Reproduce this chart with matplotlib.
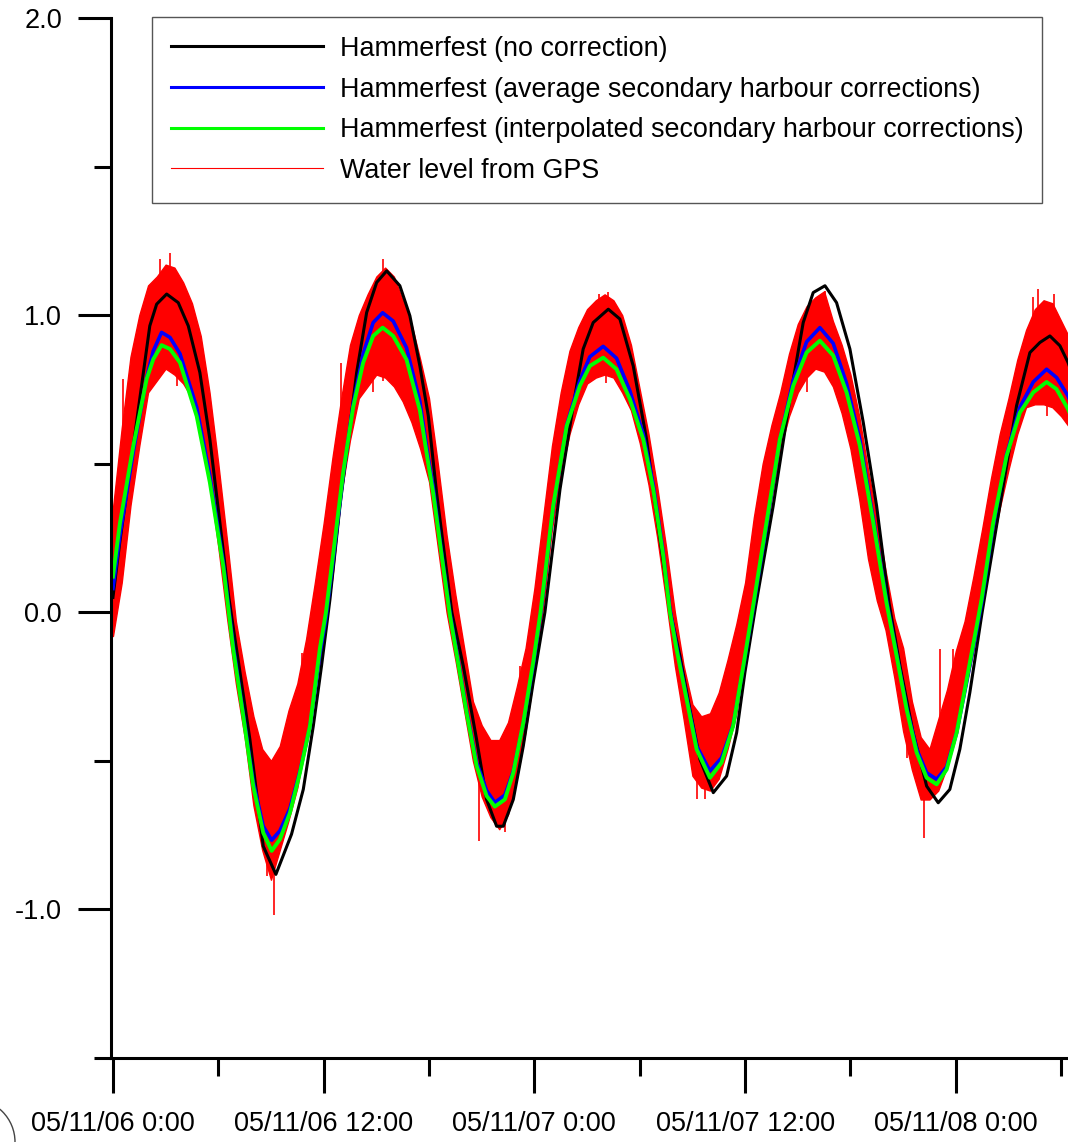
"""Tide predictions for Hammerfest vs. GPS-derived water level, 6-8 Nov 2005."""

import datetime as dt

import matplotlib

matplotlib.use("Agg")
import matplotlib.dates as mdates
import matplotlib.pyplot as plt
import numpy as np
from matplotlib.lines import Line2D
from matplotlib.patches import Arc
from matplotlib.ticker import FuncFormatter, MultipleLocator
from matplotlib.transforms import IdentityTransform

plt.rcParams["font.family"] = ["Liberation Sans", "DejaVu Sans"]
plt.rcParams["axes.unicode_minus"] = False

START = dt.datetime(2005, 11, 6)

# Hammerfest (no correction): hours after START, water level (m)
black_hours = [0.0, 0.4, 1.16, 2.1, 2.49, 3.06, 3.72, 4.29, 4.95, 5.52, 6.09, 6.6,
               7.23, 7.8, 8.56, 9.28, 10.17, 10.84, 11.41, 11.88, 12.36, 12.93,
               13.88, 14.45, 15.02, 15.59, 16.34, 16.91, 17.48, 17.96, 18.43, 19.3,
               19.95, 20.71, 21.28, 21.85, 22.23, 22.8, 23.37, 23.93, 24.6, 25.46,
               26.21, 26.78, 27.35, 28.21, 28.87, 29.63, 30.39, 31.15, 31.75, 32.29,
               32.86, 33.43, 34.19, 34.95, 35.52, 35.99, 36.6, 37.6, 38.55, 39.31,
               39.88, 40.55, 41.21, 41.97, 42.73, 43.49, 44.2, 44.82, 45.57, 46.34,
               47.0, 47.66, 48.23, 48.8, 49.5, 50.51, 51.46, 52.22, 52.79, 53.36,
               53.93, 54.39, 55.0]
black_level = [0.05, 0.24, 0.56, 0.964, 1.037, 1.071, 1.042, 0.964, 0.807, 0.582, 0.302, 0.05,
               -0.2, -0.428, -0.787, -0.882, -0.747, -0.596, -0.383, -0.18, 0.044, 0.358,
               0.807, 1.009, 1.11, 1.149, 1.099, 0.998, 0.829, 0.661, 0.403, 0.0,
               -0.18, -0.428, -0.63, -0.72, -0.72, -0.63, -0.45, -0.237, 0.0, 0.414,
               0.695, 0.886, 0.975, 1.02, 0.987, 0.829, 0.582, 0.246, 0.0, -0.147,
               -0.327, -0.495, -0.607, -0.551, -0.405, -0.203, 0.02, 0.358, 0.717, 0.975,
               1.076, 1.099, 1.042, 0.886, 0.639, 0.358, 0.03, -0.18, -0.405, -0.585,
               -0.641, -0.596, -0.461, -0.27, 0.0, 0.358, 0.695, 0.874, 0.908, 0.93,
               0.897, 0.841, 0.74]

# average / interpolated secondary harbour corrections share one time base
corr_hours = [0.0, 0.4, 1.16, 1.92, 2.3, 2.77, 3.25, 3.82, 4.77, 5.52, 6.28, 6.85,
              7.42, 7.99, 8.56, 9.04, 9.51, 10.08, 10.65, 11.22, 11.79, 12.13,
              12.55, 13.11, 13.68, 14.25, 14.82, 15.36, 15.96, 16.72, 17.48, 17.96,
              18.24, 18.7, 19.19, 19.57, 20.14, 20.71, 21.28, 21.75, 22.32, 22.8,
              23.37, 23.93, 24.35, 25.07, 25.84, 26.59, 27.16, 27.92, 28.68, 29.44,
              30.2, 30.77, 31.34, 31.72, 32.1, 32.67, 33.24, 34.0, 34.66, 35.32,
              35.9, 36.4, 37.22, 37.98, 38.74, 39.5, 40.26, 41.02, 41.78, 42.54,
              43.3, 44.06, 44.63, 45.2, 45.77, 46.34, 46.91, 47.48, 48.05, 48.62,
              49.19, 49.47, 50.13, 50.89, 51.65, 52.41, 53.17, 53.74, 54.39, 55.0]
blue_level = [0.08, 0.26, 0.54, 0.79, 0.88, 0.942, 0.925, 0.87, 0.69, 0.46, 0.17, -0.11,
              -0.34, -0.57, -0.72, -0.767, -0.735, -0.66, -0.535, -0.385, -0.14, -0.02,
              0.18, 0.46, 0.70, 0.87, 0.975, 1.008, 0.98, 0.89, 0.71, 0.52,
              0.42, 0.21, 0.0, -0.13, -0.33, -0.505, -0.60, -0.64, -0.615, -0.535,
              -0.375, -0.18, -0.01, 0.35, 0.63, 0.78, 0.86, 0.895, 0.855, 0.745,
              0.60, 0.43, 0.20, 0.01, -0.115, -0.285, -0.45, -0.534, -0.49, -0.38,
              -0.185, -0.01, 0.29, 0.58, 0.78, 0.91, 0.958, 0.905, 0.77, 0.58,
              0.315, 0.04, -0.14, -0.32, -0.46, -0.54, -0.562, -0.52, -0.405, -0.235,
              -0.06, 0.03, 0.29, 0.53, 0.69, 0.775, 0.818, 0.79, 0.728, 0.64]
green_level = [0.12, 0.30, 0.56, 0.785, 0.852, 0.899, 0.886, 0.84, 0.66, 0.437, 0.156, -0.125,
               -0.349, -0.585, -0.742, -0.803, -0.764, -0.675, -0.54, -0.383, -0.12, 0.0,
               0.2, 0.47, 0.69, 0.84, 0.93, 0.958, 0.93, 0.85, 0.68, 0.50,
               0.40, 0.2, -0.01, -0.14, -0.338, -0.517, -0.618, -0.654, -0.63, -0.54,
               -0.371, -0.169, 0.0, 0.358, 0.627, 0.762, 0.829, 0.857, 0.818, 0.717,
               0.582, 0.414, 0.19, 0.0, -0.125, -0.293, -0.461, -0.557, -0.506, -0.383,
               -0.18, 0.0, 0.302, 0.582, 0.762, 0.874, 0.914, 0.864, 0.74, 0.56,
               0.302, 0.03, -0.147, -0.327, -0.472, -0.557, -0.579, -0.529, -0.405, -0.226,
               -0.046, 0.044, 0.302, 0.526, 0.672, 0.74, 0.775, 0.751, 0.684, 0.60]

# GPS water level: half-hourly lower/upper extent of the noisy record
gps_hours = [h / 2 for h in range(111)]
gps_lower = [-0.08, 0.10, 0.36, 0.56, 0.74, 0.78, 0.82, 0.80, 0.77, 0.72, 0.62, 0.44,
             0.22, -0.02, -0.24, -0.42, -0.65, -0.80, -0.90, -0.80, -0.70, -0.59, -0.43, -0.25,
             -0.10, 0.12, 0.40, 0.58, 0.72, 0.76, 0.80, 0.79, 0.76, 0.71, 0.64, 0.55,
             0.44, 0.22, 0.00, -0.16, -0.33, -0.50, -0.62, -0.69, -0.73, -0.68, -0.56, -0.40,
             -0.20, 0.02, 0.28, 0.46, 0.60, 0.70, 0.77, 0.79, 0.80, 0.79, 0.74, 0.68,
             0.57, 0.43, 0.25, 0.04, -0.18, -0.36, -0.55, -0.59, -0.60, -0.56, -0.46, -0.34,
             -0.14, 0.02, 0.18, 0.38, 0.55, 0.66, 0.74, 0.79, 0.82, 0.81, 0.76, 0.67,
             0.55, 0.38, 0.18, 0.04, -0.06, -0.22, -0.40, -0.53, -0.63, -0.63, -0.60, -0.52,
             -0.41, -0.27, -0.13, 0.04, 0.20, 0.35, 0.48, 0.60, 0.69, 0.70, 0.70, 0.69,
             0.66, 0.62, 0.58]
gps_upper = [0.35, 0.62, 0.86, 1.00, 1.10, 1.13, 1.17, 1.16, 1.11, 1.04, 0.93, 0.74,
             0.50, 0.24, -0.03, -0.20, -0.35, -0.46, -0.50, -0.45, -0.33, -0.24, -0.09, 0.10,
             0.30, 0.52, 0.72, 0.90, 1.00, 1.07, 1.13, 1.16, 1.13, 1.05, 0.97, 0.85,
             0.72, 0.50, 0.26, 0.06, -0.12, -0.30, -0.38, -0.43, -0.43, -0.37, -0.25, -0.12,
             0.08, 0.32, 0.56, 0.74, 0.88, 0.96, 1.02, 1.05, 1.07, 1.05, 1.00, 0.90,
             0.75, 0.60, 0.42, 0.22, 0.00, -0.18, -0.31, -0.35, -0.34, -0.27, -0.16, -0.04,
             0.10, 0.32, 0.50, 0.63, 0.74, 0.87, 0.97, 1.03, 1.06, 1.08, 0.98, 0.90,
             0.80, 0.66, 0.48, 0.32, 0.14, -0.02, -0.12, -0.30, -0.42, -0.46, -0.36, -0.26,
             -0.13, -0.03, 0.12, 0.28, 0.45, 0.60, 0.72, 0.85, 0.95, 1.02, 1.05, 1.04,
             0.98, 0.92, 0.86]
# isolated GPS spikes that stick out of the band
spike_hours = [0.59, 2.68, 3.25, 3.63, 8.75, 9.2, 10.74, 13.0, 14.82, 15.36, 15.4,
               20.84, 22.32, 23.18, 27.7, 28.1, 28.2, 33.24, 33.7, 39.5, 40.55,
               45.2, 46.2, 47.1, 47.85, 52.4, 52.7, 53.17, 53.6]
spike_level = [0.785, 1.19, 1.21, 0.76, -0.888, -1.02, -0.136, 0.84, 0.74, 1.19, 0.78,
               -0.77, -0.74, -0.18, 1.07, 0.77, 1.077, -0.63, -0.63, 0.74, 1.08,
               -0.49, -0.76, -0.125, -0.125, 1.06, 1.087, 0.66, 1.07]

labels = [
    "Hammerfest (no correction)",
    "Hammerfest (average secondary harbour corrections)",
    "Hammerfest (interpolated secondary harbour corrections)",
    "Water level from GPS",
]


def to_dates(hours):
    return [START + dt.timedelta(hours=float(h)) for h in hours]


def date_label(x, _pos):
    d = mdates.num2date(round(x * 1440) / 1440)
    return f"{d:%y/%m/%d} {d.hour}:{d:%M}"


fig = plt.figure(figsize=(10.68, 11.43), dpi=100)
ax = fig.add_axes([111 / 1068, 85 / 1143, 957 / 1068, 1040 / 1143])

ax.fill_between(to_dates(gps_hours), gps_lower, gps_upper, color="red", lw=1.0)
mid = (np.array(gps_lower) + np.array(gps_upper)) / 2
ax.vlines(to_dates(spike_hours), np.interp(spike_hours, gps_hours, mid), spike_level,
          color="red", lw=1.2)

ax.plot(to_dates(black_hours), black_level, color="black", lw=2.2)
ax.plot(to_dates(corr_hours), blue_level, color="#0000ff", lw=2.6)
ax.plot(to_dates(corr_hours), green_level, color="#00ff00", lw=2.8)

ax.set_xlim(START - dt.timedelta(hours=0.11), START + dt.timedelta(hours=54.39))
ax.set_ylim(-1.5, 2.0)

ax.xaxis.set_major_locator(mdates.HourLocator(byhour=[0, 12]))
ax.xaxis.set_minor_locator(mdates.HourLocator(byhour=[6, 18]))
ax.xaxis.set_major_formatter(FuncFormatter(date_label))
ax.yaxis.set_major_locator(MultipleLocator(1.0))
ax.yaxis.set_minor_locator(MultipleLocator(0.5))
ax.yaxis.set_major_formatter(FuncFormatter(lambda v, _p: f"{v:.1f}"))

ax.tick_params(axis="y", which="major", length=23.8, width=2.2, pad=11.5, labelsize=19.5)
ax.tick_params(axis="y", which="minor", length=12.2, width=2.2)
ax.tick_params(axis="x", which="major", length=25, width=2.2, pad=13, labelsize=19.5)
ax.tick_params(axis="x", which="minor", length=13, width=2.2)
for side in ("top", "right"):
    ax.spines[side].set_visible(False)
for side in ("left", "bottom"):
    ax.spines[side].set_linewidth(2.2)

handles = [
    Line2D([], [], color="black", lw=2.2),
    Line2D([], [], color="#0000ff", lw=2.2),
    Line2D([], [], color="#00ff00", lw=2.2),
    Line2D([], [], color="red", lw=0.8),
]
leg = ax.legend(handles, labels, loc="upper left",
                bbox_to_anchor=(152 / 1068, 1 - 17 / 1143), bbox_transform=fig.transFigure,
                fontsize=19.4, handlelength=5.65, handletextpad=0.62, labelspacing=0.545,
                borderpad=0.7, borderaxespad=0, fancybox=False, framealpha=1,
                edgecolor="#555555")
leg.get_frame().set_linewidth(1.0)

# stray arc in the bottom-left corner of the original
fig.add_artist(Arc((-28, 1), 86, 86, theta1=0, theta2=90, transform=IdentityTransform(),
                   color="#444444", lw=1))

fig.savefig("out.png", dpi=100)
plt.close(fig)
